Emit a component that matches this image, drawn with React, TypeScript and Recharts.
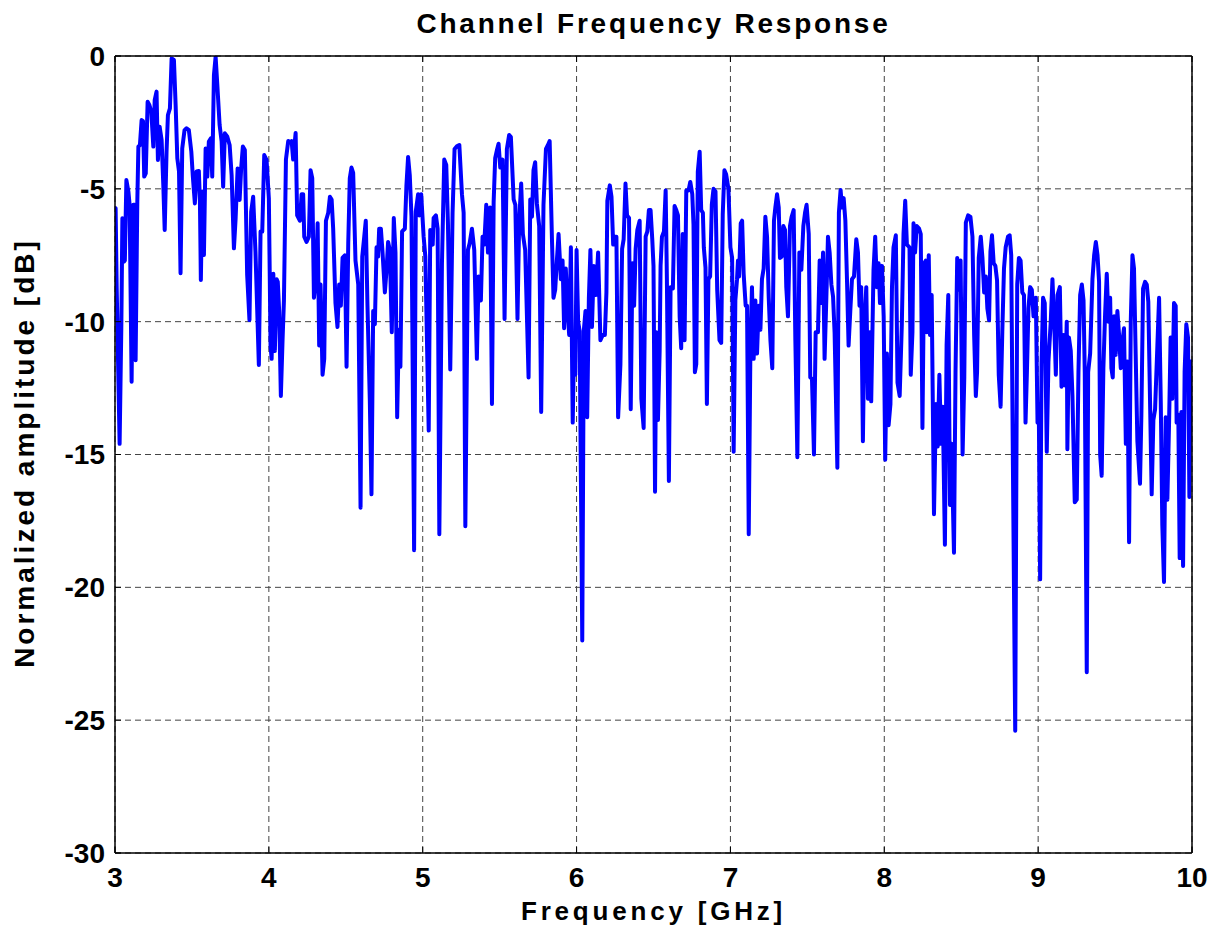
import React from "react";
import {
  LineChart,
  Line,
  XAxis,
  YAxis,
  CartesianGrid,
} from "recharts";

// [frequency GHz, normalized amplitude dB], one array per GHz band
const band3: [number, number][] = [
  [3.0, -5.8], [3.004, -5.73], [3.011, -8.75], [3.03, -14.6], [3.041, -10.25], [3.048, -6.11],
  [3.058, -7.74], [3.064, -7.7], [3.074, -4.67], [3.087, -5.1], [3.095, -5.6], [3.108, -12.26],
  [3.119, -5.6], [3.128, -5.6], [3.134, -11.45], [3.145, -5.48], [3.152, -3.41], [3.162, -3.35],
  [3.173, -2.41], [3.182, -2.45], [3.19, -4.54], [3.2, -4.42], [3.212, -1.72], [3.223, -1.84],
  [3.236, -2.1], [3.249, -3.41], [3.258, -1.66], [3.27, -1.34], [3.279, -3.91], [3.29, -2.66],
  [3.303, -3.16], [3.314, -4.86], [3.323, -6.55], [3.335, -3.6], [3.344, -2.22], [3.357, -1.97],
  [3.368, -0.09], [3.383, -0.15], [3.394, -1.84], [3.405, -3.85], [3.416, -4.35], [3.426, -8.18],
  [3.437, -3.48], [3.452, -2.79], [3.465, -2.72], [3.48, -2.79], [3.496, -3.6], [3.506, -4.54],
  [3.519, -5.55], [3.53, -4.35], [3.545, -4.33], [3.552, -5.48], [3.558, -8.43], [3.567, -5.1],
  [3.578, -7.49], [3.589, -3.48], [3.6, -4.54], [3.61, -3.22], [3.623, -3.1], [3.632, -4.54],
  [3.643, -0.72], [3.654, -0.03], [3.665, -1.09], [3.68, -2.6], [3.693, -3.22], [3.703, -4.92],
  [3.714, -2.91], [3.73, -3.04], [3.745, -3.35], [3.758, -4.48], [3.773, -7.24], [3.784, -6.11],
  [3.797, -4.23], [3.81, -5.42], [3.82, -4.23], [3.831, -3.41], [3.844, -3.54], [3.859, -8.24],
  [3.874, -9.94], [3.885, -5.86], [3.898, -5.3], [3.913, -7.37], [3.935, -11.63], [3.946, -6.61],
  [3.957, -6.61], [3.97, -3.73], [3.985, -3.91], [4.0, -5.36],
];

const band4: [number, number][] = [
  [4.011, -10.9], [4.018, -11.4], [4.029, -8.2], [4.039, -11.1], [4.05, -8.4], [4.058, -8.5],
  [4.067, -9.6], [4.078, -12.8], [4.089, -10.7], [4.098, -9.2], [4.111, -3.9], [4.126, -3.2],
  [4.14, -3.25], [4.148, -3.2], [4.158, -3.9], [4.174, -2.9], [4.184, -6.0], [4.202, -6.2],
  [4.213, -5.2], [4.223, -5.2], [4.23, -6.8], [4.245, -7.0], [4.26, -6.8], [4.271, -4.3],
  [4.282, -4.6], [4.293, -9.1], [4.306, -8.4], [4.317, -6.3], [4.327, -10.9], [4.336, -8.6],
  [4.349, -12.0], [4.36, -11.4], [4.371, -6.2], [4.386, -5.9], [4.397, -5.3], [4.408, -5.4],
  [4.418, -6.5], [4.433, -9.3], [4.446, -10.2], [4.457, -8.6], [4.468, -9.4], [4.479, -7.6],
  [4.494, -7.5], [4.505, -11.7], [4.516, -7.05], [4.526, -4.6], [4.537, -4.2], [4.548, -4.4],
  [4.563, -7.7], [4.581, -8.6], [4.596, -17.0], [4.607, -7.55], [4.62, -6.8], [4.63, -6.2],
  [4.641, -9.4], [4.656, -12.9], [4.667, -16.5], [4.678, -9.6], [4.689, -10.1], [4.7, -7.2],
  [4.71, -7.55], [4.717, -6.5], [4.728, -6.5], [4.739, -7.4], [4.754, -8.9], [4.765, -8.05],
  [4.775, -7.0], [4.786, -7.3], [4.799, -10.4], [4.812, -6.1], [4.823, -7.4], [4.834, -13.6],
  [4.845, -10.3], [4.855, -11.7], [4.866, -6.6], [4.884, -6.5], [4.894, -4.9], [4.905, -3.8],
  [4.916, -4.5], [4.927, -6.05], [4.944, -18.6], [4.955, -5.85], [4.97, -5.2], [4.978, -6.0],
  [4.99, -5.2],
];

const band5: [number, number][] = [
  [5.006, -6.8], [5.017, -7.55], [5.039, -14.1], [5.049, -6.55], [5.065, -7.1], [5.071, -6.1],
  [5.086, -6.0], [5.097, -6.5], [5.108, -18.0], [5.125, -7.8], [5.14, -3.9], [5.153, -4.1],
  [5.164, -6.3], [5.179, -11.8], [5.194, -5.9], [5.207, -3.5], [5.222, -3.4], [5.238, -3.35],
  [5.255, -5.2], [5.266, -5.9], [5.277, -17.7], [5.294, -7.3], [5.305, -7.05], [5.32, -6.5],
  [5.335, -7.3], [5.352, -11.4], [5.363, -8.3], [5.378, -9.2], [5.389, -6.8], [5.4, -7.1],
  [5.413, -5.6], [5.424, -7.4], [5.438, -5.7], [5.45, -13.1], [5.461, -5.5], [5.471, -3.85],
  [5.482, -3.55], [5.493, -3.3], [5.504, -4.2], [5.519, -3.9], [5.532, -9.9], [5.547, -3.5],
  [5.562, -2.97], [5.573, -3.05], [5.591, -5.4], [5.602, -5.6], [5.616, -9.9], [5.627, -6.2],
  [5.64, -4.8], [5.651, -6.7], [5.666, -7.3], [5.688, -12.1], [5.699, -5.4], [5.71, -6.05],
  [5.72, -4.3], [5.731, -4.0], [5.742, -5.55], [5.757, -6.4], [5.77, -13.4], [5.785, -5.6],
  [5.801, -3.5], [5.814, -3.35], [5.825, -3.2], [5.84, -6.9], [5.85, -9.1], [5.861, -8.8],
  [5.872, -7.7], [5.883, -6.7], [5.898, -8.4], [5.909, -7.7], [5.919, -10.25], [5.93, -8.0],
  [5.941, -9.5], [5.952, -10.5], [5.963, -7.2], [5.975, -13.8], [5.985, -10.5], [5.992, -12.0],
];

const band6: [number, number][] = [
  [6.0, -7.3], [6.01, -10.0], [6.02, -10.35], [6.037, -22.0], [6.047, -10.35], [6.058, -9.6],
  [6.069, -13.6], [6.08, -9.1], [6.09, -7.3], [6.1, -10.2], [6.112, -7.9], [6.125, -9.0],
  [6.14, -7.4], [6.155, -10.7], [6.17, -10.5], [6.184, -10.5], [6.194, -8.9], [6.2, -5.45],
  [6.216, -4.87], [6.227, -5.3], [6.238, -7.1], [6.249, -6.8], [6.259, -6.8], [6.27, -13.6],
  [6.285, -11.6], [6.296, -7.26], [6.306, -6.9], [6.318, -4.8], [6.328, -6.0], [6.341, -6.1],
  [6.352, -13.3], [6.363, -7.8], [6.374, -9.4], [6.384, -7.26], [6.395, -6.55], [6.41, -6.2],
  [6.421, -12.9], [6.436, -14.0], [6.449, -6.8], [6.46, -6.6], [6.47, -5.8], [6.481, -5.8],
  [6.492, -6.9], [6.5, -7.9], [6.51, -16.4], [6.518, -10.4], [6.529, -13.7], [6.54, -11.1],
  [6.546, -7.9], [6.555, -6.8], [6.568, -6.6], [6.579, -5.06], [6.587, -8.4], [6.6, -16.0],
  [6.611, -8.7], [6.626, -8.75], [6.637, -5.65], [6.648, -5.8], [6.659, -6.0], [6.67, -9.8],
  [6.68, -11.0], [6.69, -6.7], [6.702, -10.7], [6.713, -5.06], [6.728, -5.06], [6.739, -4.74],
  [6.752, -5.2], [6.76, -6.35], [6.769, -11.9], [6.778, -11.6], [6.788, -4.35], [6.8, -3.6],
  [6.81, -5.8], [6.821, -5.9], [6.827, -7.2], [6.838, -7.97], [6.847, -13.1], [6.857, -8.4],
  [6.868, -8.3], [6.879, -5.6], [6.89, -5.0], [6.903, -5.1], [6.914, -8.8], [6.929, -10.7],
  [6.94, -10.8], [6.95, -5.97], [6.961, -4.3], [6.972, -4.45], [6.987, -5.0],
];

const band7: [number, number][] = [
  [7.0, -7.2], [7.011, -7.6], [7.021, -14.9], [7.032, -9.2], [7.043, -8.4], [7.049, -7.7],
  [7.056, -8.3], [7.067, -6.3], [7.076, -6.2], [7.086, -8.2], [7.099, -9.4], [7.108, -9.4],
  [7.119, -18.0], [7.13, -10.9], [7.14, -8.7], [7.151, -11.4], [7.162, -9.2], [7.173, -11.2],
  [7.184, -9.4], [7.195, -10.3], [7.205, -8.4], [7.216, -8.0], [7.227, -6.05], [7.238, -6.8],
  [7.249, -9.1], [7.26, -10.7], [7.272, -11.75], [7.283, -6.2], [7.292, -5.7], [7.303, -5.2],
  [7.314, -5.7], [7.322, -7.6], [7.333, -7.55], [7.344, -6.4], [7.355, -6.55], [7.363, -8.7],
  [7.374, -9.8], [7.387, -6.4], [7.398, -6.05], [7.411, -5.8], [7.422, -10.7], [7.435, -15.1],
  [7.448, -7.4], [7.461, -8.05], [7.474, -6.4], [7.485, -5.9], [7.495, -5.6], [7.509, -6.7],
  [7.519, -12.1], [7.53, -12.15], [7.543, -15.0], [7.554, -10.4], [7.569, -10.4], [7.58, -7.7],
  [7.591, -9.3], [7.602, -7.4], [7.612, -11.4], [7.623, -9.2], [7.634, -6.8], [7.645, -7.4],
  [7.656, -8.6], [7.667, -9.05], [7.677, -10.4], [7.695, -15.5], [7.705, -5.9], [7.716, -5.04],
  [7.725, -5.7], [7.736, -5.35], [7.747, -6.2], [7.757, -8.3], [7.768, -10.9], [7.779, -9.6],
  [7.79, -8.4], [7.803, -8.3], [7.818, -6.9], [7.829, -7.4], [7.839, -9.4], [7.85, -8.7],
  [7.861, -14.5], [7.872, -9.9], [7.883, -8.7], [7.894, -12.9], [7.905, -10.4], [7.915, -13.0],
  [7.93, -8.05], [7.941, -6.8], [7.952, -8.7], [7.963, -7.8], [7.972, -9.3], [7.985, -7.9],
  [7.996, -9.8],
];

const band8: [number, number][] = [
  [8.006, -15.2], [8.017, -11.2], [8.028, -13.9], [8.04, -13.1], [8.05, -8.7], [8.06, -7.2],
  [8.075, -6.75], [8.086, -12.3], [8.1, -12.8], [8.114, -10.1], [8.125, -6.7], [8.136, -5.45],
  [8.147, -7.1], [8.164, -7.2], [8.172, -12.0], [8.183, -10.4], [8.19, -6.3], [8.2, -7.4],
  [8.211, -6.4], [8.226, -6.5], [8.237, -6.7], [8.248, -14.0], [8.259, -7.8], [8.27, -7.7],
  [8.276, -10.4], [8.289, -7.5], [8.297, -10.5], [8.308, -9.0], [8.323, -17.25], [8.336, -13.1],
  [8.347, -14.7], [8.358, -12.0], [8.369, -14.6], [8.38, -13.2], [8.394, -18.4], [8.405, -10.9],
  [8.416, -9.0], [8.427, -16.9], [8.437, -14.6], [8.453, -18.7], [8.463, -11.9], [8.474, -7.6],
  [8.485, -8.8], [8.496, -7.7], [8.509, -15.0], [8.52, -12.1], [8.53, -6.27], [8.545, -6.0],
  [8.56, -6.06], [8.573, -6.8], [8.584, -10.5], [8.595, -12.8], [8.603, -11.9], [8.614, -7.6],
  [8.627, -6.8], [8.638, -7.6], [8.649, -8.9], [8.66, -8.3], [8.67, -9.5], [8.681, -9.95],
  [8.69, -7.36], [8.7, -6.75], [8.711, -7.8], [8.722, -7.9], [8.733, -8.45], [8.744, -12.0],
  [8.756, -13.2], [8.767, -10.4], [8.778, -8.0], [8.789, -7.2], [8.804, -6.8], [8.815, -6.75],
  [8.825, -7.5], [8.836, -15.4], [8.851, -25.4], [8.864, -8.6], [8.875, -7.6], [8.886, -7.7],
  [8.897, -8.9], [8.908, -9.0], [8.918, -13.8], [8.927, -11.9], [8.937, -9.5], [8.948, -8.7],
  [8.959, -8.8], [8.97, -9.8], [8.985, -9.1], [8.996, -13.8],
];

const band9: [number, number][] = [
  [9.004, -13.1], [9.013, -19.7], [9.022, -11.6], [9.032, -9.1], [9.043, -9.3], [9.056, -14.9],
  [9.067, -11.5], [9.082, -10.0], [9.093, -8.4], [9.104, -10.0], [9.115, -12.0], [9.126, -9.0],
  [9.141, -8.7], [9.152, -12.45], [9.165, -10.5], [9.175, -12.4], [9.186, -10.0], [9.19, -14.8],
  [9.2, -10.6], [9.212, -11.1], [9.223, -12.8], [9.238, -16.8], [9.251, -16.7], [9.262, -11.9],
  [9.273, -9.0], [9.284, -8.6], [9.295, -9.2], [9.303, -11.9], [9.316, -23.2], [9.325, -11.9],
  [9.338, -11.2], [9.353, -8.4], [9.364, -7.5], [9.375, -7.0], [9.386, -7.5], [9.396, -8.5],
  [9.403, -15.0], [9.413, -15.8], [9.424, -11.75], [9.435, -9.75], [9.446, -8.2], [9.457, -10.0],
  [9.468, -9.1], [9.476, -11.75], [9.485, -12.1], [9.494, -9.8], [9.504, -11.25], [9.515, -9.6],
  [9.526, -10.5], [9.537, -11.75], [9.548, -10.75], [9.558, -10.25], [9.57, -14.6], [9.58, -11.5],
  [9.591, -18.3], [9.602, -10.0], [9.613, -7.5], [9.623, -8.0], [9.634, -11.25], [9.645, -14.5],
  [9.662, -16.1], [9.671, -13.5], [9.682, -8.75], [9.695, -8.5], [9.706, -8.6], [9.716, -9.25],
  [9.727, -12.9], [9.738, -16.5], [9.749, -13.7], [9.76, -13.3], [9.775, -10.9], [9.786, -9.1],
  [9.797, -13.0], [9.807, -17.65], [9.818, -19.8], [9.829, -13.6], [9.84, -16.7], [9.851, -13.8],
  [9.861, -10.6], [9.872, -12.9], [9.883, -9.3], [9.894, -9.4], [9.9, -13.8], [9.911, -13.5],
  [9.92, -18.9], [9.931, -13.4], [9.942, -19.2], [9.952, -11.9], [9.963, -10.1], [9.974, -10.6],
  [9.983, -16.6], [9.99, -11.5], [10.0, -11.5],
];

const xTicks = [3, 4, 5, 6, 7, 8, 9, 10];
const yTicks = [-30, -25, -20, -15, -10, -5, 0];

const data = [...band3, ...band4, ...band5, ...band6, ...band7, ...band8, ...band9].map(
  ([f, db]) => ({ f, db })
);

const FONT = '"Liberation Sans", Arial, Helvetica, sans-serif';
const tickStyle = { fill: "#000", fontSize: 28, fontWeight: "bold", fontFamily: FONT };
const blank = () => "";

export default function App() {
  return (
    <div
      style={{
        position: "absolute",
        left: 0,
        top: 0,
        width: 1214,
        height: 930,
        background: "#fff",
        fontFamily: FONT,
      }}
    >
      <LineChart width={1214} height={930} data={data} margin={{ top: 0, right: 0, bottom: 0, left: 0 }}>
        <CartesianGrid stroke="#444" strokeDasharray="6 4" />
        <XAxis
          dataKey="f"
          type="number"
          domain={[3, 10]}
          ticks={xTicks}
          allowDataOverflow
          height={77}
          tickSize={-6}
          tickMargin={20}
          tick={tickStyle}
          axisLine={{ stroke: "#000", strokeWidth: 1.5 }}
          tickLine={{ stroke: "#000" }}
        />
        <XAxis
          xAxisId="top"
          orientation="top"
          dataKey="f"
          type="number"
          domain={[3, 10]}
          ticks={xTicks}
          height={56}
          tickSize={-6}
          tickFormatter={blank}
          axisLine={{ stroke: "#000", strokeWidth: 1.5 }}
          tickLine={{ stroke: "#000" }}
        />
        <YAxis
          type="number"
          domain={[-30, 0]}
          ticks={yTicks}
          allowDataOverflow
          width={115}
          tickSize={-6}
          tickMargin={16}
          tick={tickStyle}
          axisLine={{ stroke: "#000", strokeWidth: 1.5 }}
          tickLine={{ stroke: "#000" }}
        />
        <YAxis
          yAxisId="right"
          orientation="right"
          type="number"
          domain={[-30, 0]}
          ticks={yTicks}
          width={22}
          tickSize={-6}
          tickFormatter={blank}
          axisLine={{ stroke: "#000", strokeWidth: 1.5 }}
          tickLine={{ stroke: "#000" }}
        />
        <Line
          type="linear"
          dataKey="db"
          stroke="#0000ff"
          strokeWidth={4}
          strokeLinejoin="round"
          dot={false}
          activeDot={false}
          isAnimationActive={false}
        />
      </LineChart>

      {/* title */}
      <div
        style={{
          position: "absolute",
          left: 115,
          width: 1077,
          top: 9.6,
          textAlign: "center",
          fontSize: 28,
          lineHeight: "28px",
          fontWeight: "bold",
          letterSpacing: "2.8px",
          color: "#000",
          whiteSpace: "nowrap",
        }}
      >
        Channel Frequency Response
      </div>

      {/* x label */}
      <div
        style={{
          position: "absolute",
          left: 115,
          width: 1077,
          top: 898,
          textAlign: "center",
          fontSize: 26,
          lineHeight: "26px",
          fontWeight: "bold",
          letterSpacing: "3.8px",
          color: "#000",
          whiteSpace: "nowrap",
        }}
      >
        Frequency [GHz]
      </div>

      {/* y label */}
      <div
        style={{
          position: "absolute",
          left: 25.3 - 300,
          width: 600,
          top: 453 - 14,
          textAlign: "center",
          fontSize: 28,
          lineHeight: "28px",
          fontWeight: "bold",
          letterSpacing: "3px",
          color: "#000",
          whiteSpace: "nowrap",
          transform: "rotate(-90deg)",
          transformOrigin: "50% 50%",
        }}
      >
        Normalized amplitude [dB]
      </div>
    </div>
  );
}
